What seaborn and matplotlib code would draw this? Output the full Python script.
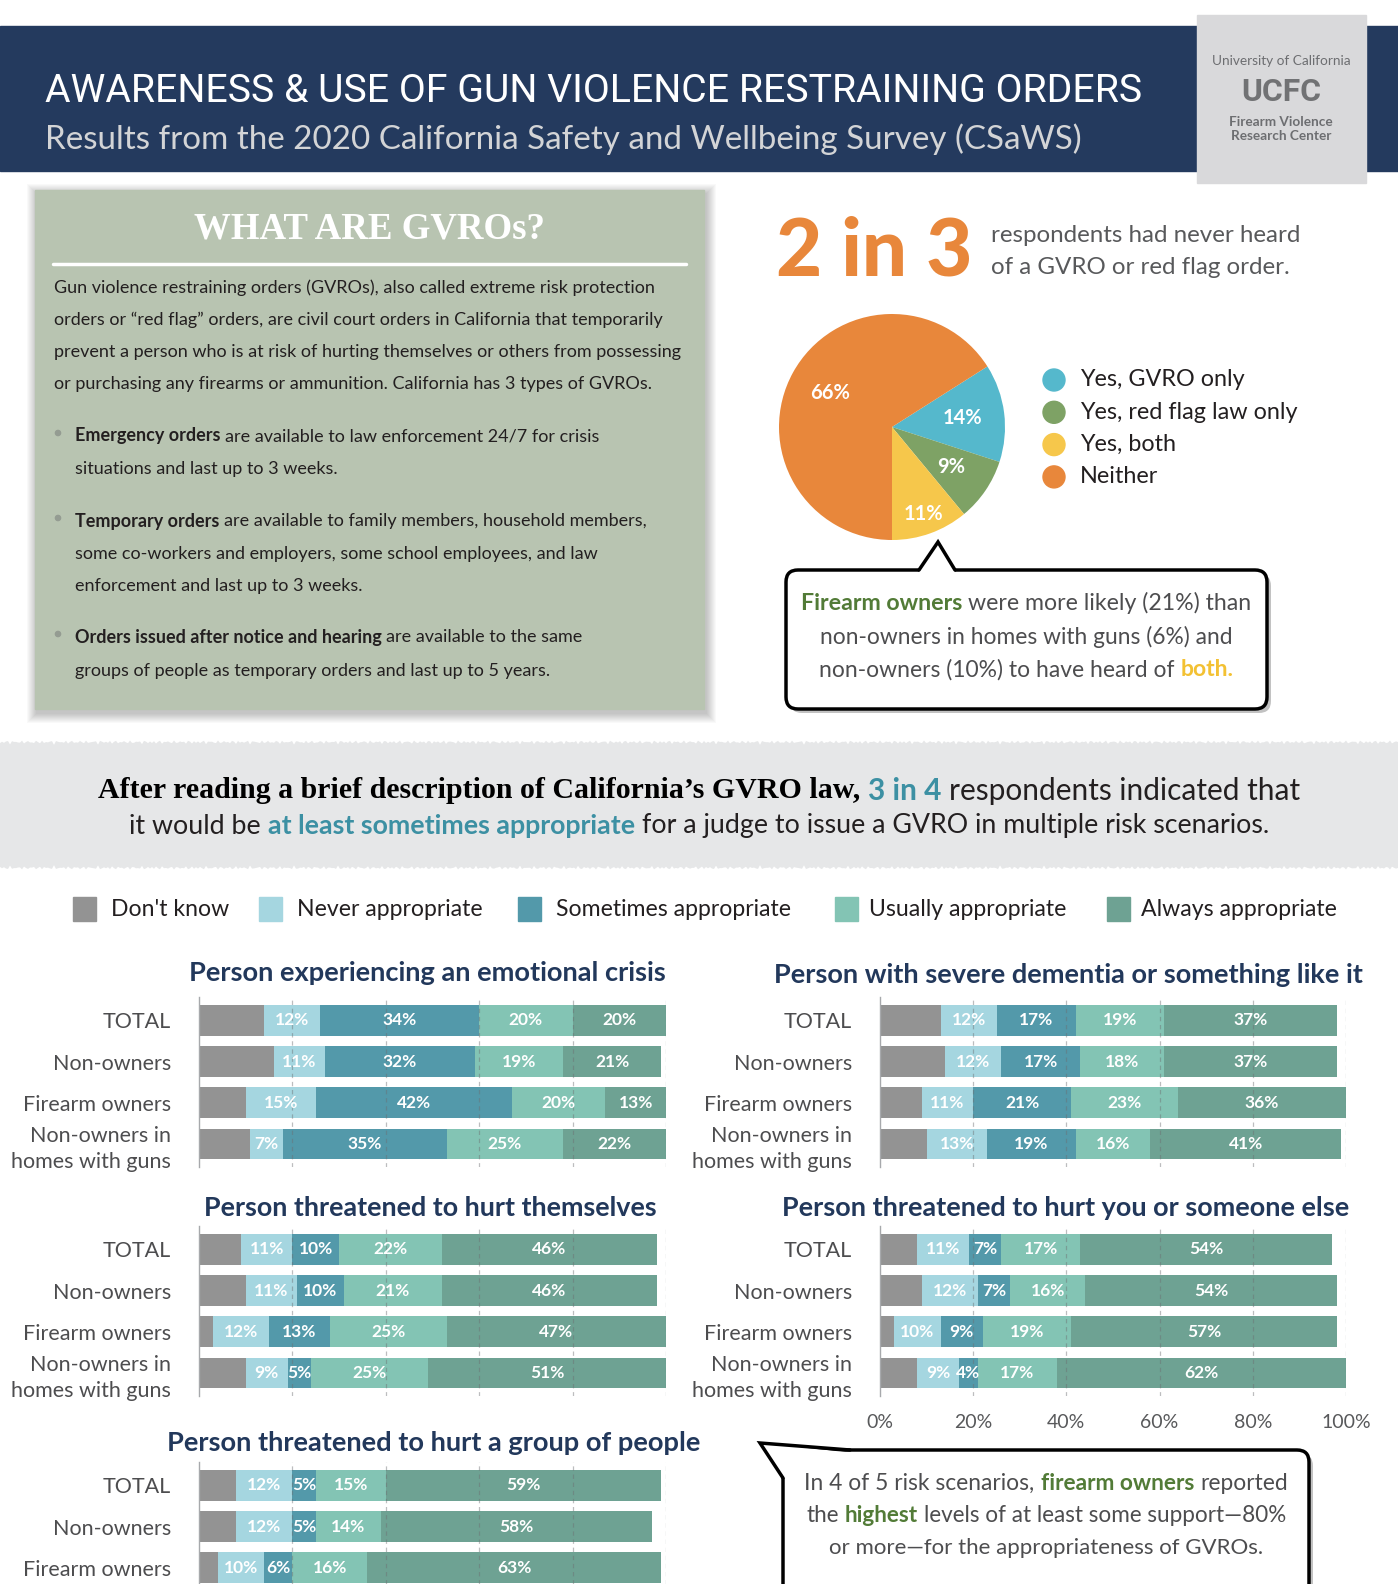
import numpy as np
import pandas as pd
import seaborn as sns
import matplotlib.pyplot as plt
from matplotlib.patches import Rectangle, FancyBboxPatch, Polygon, Circle

# ---------------- data ----------------
pie_labels = ["Yes, GVRO only", "Yes, red flag law only", "Yes, both", "Neither"]
pie_values = [14, 9, 11, 66]

responses = ["Don't know", "Never appropriate", "Sometimes appropriate",
             "Usually appropriate", "Always appropriate"]
groups = ["TOTAL", "Non-owners", "Firearm owners", "Non-owners in\nhomes with guns"]

# columns follow `responses`; "Don't know" is unlabeled in the source
crisis = [[14, 12, 34, 20, 20], [16, 11, 32, 19, 21], [10, 15, 42, 20, 13], [11, 7, 35, 25, 22]]
dementia = [[13, 12, 17, 19, 37], [14, 12, 17, 18, 37], [9, 11, 21, 23, 36], [10, 13, 19, 16, 41]]
self_harm = [[9, 11, 10, 22, 46], [10, 11, 10, 21, 46], [3, 12, 13, 25, 47], [10, 9, 5, 25, 51]]
harm_others = [[8, 11, 7, 17, 54], [9, 12, 7, 16, 54], [3, 10, 9, 19, 57], [8, 9, 4, 17, 62]]
harm_group = [[8, 12, 5, 15, 59], [8, 12, 5, 14, 58], [4, 10, 6, 16, 63]]

xticks = [0, 20, 40, 60, 80, 100]

# ---------------- style ----------------
NAVY = "#243A5E"
ORANGE = "#E8873B"
TEAL = "#3C90A3"
GREEN_TXT = "#527B37"
YELLOW_TXT = "#F3C133"
DARK = "#231F20"
GREYTXT = "#4D4D4F"
bar_colors = ["#939393", "#A5D6E0", "#5399AA", "#83C4B4", "#6EA293"]
pie_colors = ["#55B8CC", "#7EA265", "#F6C74B", "#E8873B"]

sns.set_theme(style="white")
SANS = ["Lato", "DejaVu Sans"]
SERIF = ["Liberation Serif", "DejaVu Serif"]
plt.rcParams["font.family"] = SANS

W, H = 1398, 1584
fig = plt.figure(figsize=(W / 100, H / 100), dpi=100)
bg = fig.add_axes([0, 0, 1, 1])
bg.set_xlim(0, W)
bg.set_ylim(H, 0)
bg.axis("off")
bg.set_zorder(0)
R = fig.canvas.get_renderer()


def px_axes(x0, y0, x1, y1):
    ax = fig.add_axes([x0 / W, 1 - y1 / H, (x1 - x0) / W, (y1 - y0) / H])
    ax.set_facecolor("none")
    return ax


def wid(t):
    return t.get_window_extent(R).width


def fit(t, w):
    t.set_fontsize(t.get_fontsize() * w / wid(t))
    return t


def rich(x, y, parts, size, ha="center", width=None, **kw):
    texts = []
    for s, st in parts:
        p = dict(kw)
        p.update(st)
        texts.append(bg.text(0, y, s, fontsize=size, va="center", ha="left", **p))

    def measure():
        return [wid(t) for t in texts], 0.26 * texts[-1].get_fontsize() * 100 / 72

    ws, sp = measure()
    if width:
        k = width / (sum(ws) + sp * (len(ws) - 1))
        for t in texts:
            t.set_fontsize(t.get_fontsize() * k)
        ws, sp = measure()
    total = sum(ws) + sp * (len(ws) - 1)
    x0 = x - total / 2 if ha == "center" else x
    for t, w in zip(texts, ws):
        t.set_x(x0)
        x0 += w + sp
    return texts


BOLD = dict(fontweight="bold")

# ---------------- header ----------------
bg.add_patch(Rectangle((0, 26), W, 145, color=NAVY, zorder=1))
bg.add_patch(Rectangle((1197, 15), 169, 168, color="#D9D9DB", zorder=2))
fit(bg.text(45, 91, "AWARENESS & USE OF GUN VIOLENCE RESTRAINING ORDERS", color="white",
            fontsize=30, family=["Roboto", "Lato"], va="center", zorder=3), 1094)
fit(bg.text(45, 139, "Results from the 2020 California Safety and Wellbeing Survey (CSaWS)",
            color="#D3D4D6", fontsize=24, va="center", zorder=3), 1036)
bg.text(1281, 61, "University of California", color="#6D6E71", fontsize=9.8,
        ha="center", va="center", zorder=3)
fit(bg.text(1281, 92, "UCFC", color="#717274", fontsize=30, family=["Roboto", "Lato"],
            fontweight="bold", ha="center", va="center", zorder=3), 80)
bg.text(1281, 122, "Firearm Violence", color="#6D6E71", fontsize=9.8, fontweight="bold",
        ha="center", va="center", zorder=3)
bg.text(1281, 136, "Research Center", color="#6D6E71", fontsize=9.8, fontweight="bold",
        ha="center", va="center", zorder=3)

# ---------------- GVRO box ----------------
for k in range(1, 11):
    bg.add_patch(Rectangle((35 - k + 2, 190 - k + 4), 669 + 2 * k, 519 + 2 * k,
                           color="black", alpha=0.022, lw=0, zorder=1))
bg.add_patch(Rectangle((35, 190), 669, 519, color="#B8C4B1", zorder=2))
fit(bg.text(369, 229, "WHAT ARE GVROs?", color="white", fontsize=26, family=SERIF,
            fontweight="bold", ha="center", va="center", zorder=3), 352)
bg.plot([53, 686], [264, 264], color="white", lw=2.5, zorder=3)

probe = bg.text(0, 0, "prevent a person who is at risk of hurting themselves or others from possessing",
                fontsize=20)
body_fs = 20 * 628 / wid(probe)
probe.remove()

para = ["Gun violence restraining orders (GVROs), also called extreme risk protection",
        "orders or \u201cred flag\u201d orders, are civil court orders in California that temporarily",
        "prevent a person who is at risk of hurting themselves or others from possessing",
        "or purchasing any firearms or ammunition. California has 3 types of GVROs."]
for i, line in enumerate(para):
    bg.text(54, [288, 320, 352, 384][i], line, fontsize=body_fs, color=DARK,
            va="center", zorder=3)

bullets = [
    (436, [("Emergency orders", BOLD), ("are available to law enforcement 24/7 for crisis", {})]),
    (469, [("situations and last up to 3 weeks.", {})]),
    (521, [("Temporary orders", BOLD), ("are available to family members, household members,", {})]),
    (554, [("some co-workers and employers, some school employees, and law", {})]),
    (586, [("enforcement and last up to 3 weeks.", {})]),
    (637, [("Orders issued after notice and hearing", BOLD), ("are available to the same", {})]),
    (671, [("groups of people as temporary orders and last up to 5 years.", {})]),
]
for y, parts in bullets:
    rich(75, y, parts, body_fs, ha="left", color=DARK, zorder=3)
for y in [433, 518, 634]:
    bg.add_patch(Circle((58, y), 2.6, color="#949C92", zorder=3))

# ---------------- 2 in 3 + pie ----------------
fit(bg.text(776, 252, "2 in 3", color=ORANGE, fontsize=50, fontweight="black",
            va="center", zorder=3), 197)
t1 = fit(bg.text(991, 235, "respondents had never heard", color="#58595B", fontsize=17,
                 va="center", zorder=3), 309)
bg.text(991, 267, "of a GVRO or red flag order.", color="#58595B", fontsize=t1.get_fontsize(),
        va="center", zorder=3)

cx, cy, r = 892, 427, 113
pax = px_axes(cx - r, cy - r, cx + r, cy + r)
start = -90 + 3.6 * sum(pie_values[:3])
wedges, _, autotexts = pax.pie(pie_values, colors=pie_colors, startangle=start, counterclock=False,
                               autopct="%.0f%%", pctdistance=0.63,
                               wedgeprops=dict(linewidth=0),
                               textprops=dict(color="white", fontweight="bold", fontsize=14.5))
px_, py_ = autotexts[2].get_position()
autotexts[2].set_position((px_ * 1.3, py_ * 1.3))
pax.set_xlim(-1, 1)
pax.set_ylim(-1, 1)

for i, lab in enumerate(pie_labels):
    yy = 380 + 32.3 * i
    bg.add_patch(Circle((1054, yy), 11, color=pie_colors[i], zorder=3))
    bg.text(1080, yy, lab, fontsize=16.8, color=DARK, va="center", zorder=3)

# callout 1
bg.add_patch(FancyBboxPatch((790, 574), 481, 139, boxstyle="round,pad=0,rounding_size=12",
                            fc="#9A9A9A", ec="none", alpha=0.6, zorder=2))
bg.add_patch(FancyBboxPatch((786, 570), 481, 139, boxstyle="round,pad=0,rounding_size=12",
                            fc="white", ec="black", lw=2.5, zorder=3))
bg.add_patch(Polygon([(919, 572), (938, 542), (955, 572)], closed=True, fc="white", ec="none", zorder=4))
bg.plot([919, 938, 955], [570, 542, 570], color="black", lw=2.5, zorder=5, solid_joinstyle="miter")
cfs = 15.5
rich(1026, 603, [("Firearm owners", dict(color=GREEN_TXT, fontweight="bold")),
                 ("were more likely (21%) than", {})], cfs, width=451, color=GREYTXT, zorder=6)
rich(1026, 637, [("non-owners in homes with guns (6%) and", {})], cfs, width=411, color=GREYTXT, zorder=6)
rich(1026, 670, [("non-owners (10%) to have heard of", {}),
                 ("both.", dict(color=YELLOW_TXT, fontweight="bold"))], cfs, width=414,
     color=GREYTXT, zorder=6)

# ---------------- grey band ----------------
xs = np.linspace(0, W, 700)
jag = 2.5 * np.abs(np.sin(xs * 0.93)) + 2.0 * np.abs(np.sin(xs * 2.71 + 1.3))
top = 745 - jag
bot = 865 + jag[::-1]
band = np.vstack([np.column_stack([xs, top]), np.column_stack([xs[::-1], bot])])
bg.add_patch(Polygon(band, closed=True, color="#E6E7E8", lw=0, zorder=1))
rich(699, 791, [("After reading a brief description of California\u2019s GVRO law,",
                 dict(family=SERIF, fontweight="bold", color="black")),
                ("3 in 4", dict(color=TEAL, fontweight="bold")),
                ("respondents indicated that", {})], 20, width=1205, color=DARK, zorder=3)
rich(699, 826, [("it would be", {}),
                ("at least sometimes appropriate", dict(color=TEAL, fontweight="bold")),
                ("for a judge to issue a GVRO in multiple risk scenarios.", {})], 18,
     width=1137, color=DARK, zorder=3)

# ---------------- bar legend ----------------
for sx, tx, lab, col in zip([73, 259, 518, 835, 1107], [111, 297, 556, 869, 1141], responses, bar_colors):
    bg.add_patch(Rectangle((sx, 897), 23, 24, color=col, zorder=3))
    bg.text(tx, 910, lab, fontsize=16.6, color=DARK, va="center", zorder=3)


# ---------------- stacked bar panels ----------------
def stacked(ax, rows, ybottom, show_ticks=False):
    labels = groups[:len(rows)]
    df = pd.DataFrame(rows, columns=responses)
    cum = df.cumsum(axis=1)
    cum["group"] = labels
    for resp, col in reversed(list(zip(responses, bar_colors))):
        sns.barplot(data=cum, x=resp, y="group", color=col, orient="h", width=0.75,
                    saturation=1, errorbar=None, linewidth=0, ax=ax, zorder=2)
    for i, row in enumerate(rows):
        left = 0
        for j, v in enumerate(row):
            if j > 0:
                ax.text(left + v / 2, i, f"{v}%", color="white", fontweight="bold",
                        fontsize=12.5, ha="center", va="center", zorder=4)
            left += v
    for v in xticks[1:]:
        ax.axvline(v, color="#6D6E71", lw=0.9, ls=(0, (3.5, 3)), alpha=0.45, zorder=3)
    ax.set_xlim(0, 100)
    ax.set_ylim(ybottom, -0.57)
    ax.set_xlabel("")
    ax.set_ylabel("")
    for s in ["top", "right", "bottom"]:
        ax.spines[s].set_visible(False)
    ax.spines["left"].set_color("#A7A9AC")
    ax.spines["left"].set_linewidth(1)
    ax.set_yticks(range(len(labels)))
    ax.set_yticklabels(labels, fontsize=15.5, color=GREYTXT, linespacing=1.4)
    ax.tick_params(axis="y", length=0, pad=20)
    if show_ticks:
        ax.set_xticks(xticks)
        ax.set_xticklabels([f"{v}%" for v in xticks], fontsize=14, color="#58595B")
        ax.tick_params(axis="x", length=0, pad=13)
    else:
        ax.set_xticks([])


panels = [
    ("Person experiencing an emotional crisis", crisis, (199, 997, 666, 1167), 3.56, 427, 973, 480, False),
    ("Person with severe dementia or something like it", dementia, (880, 997, 1346, 1167), 3.56, 1068, 975, 591, False),
    ("Person threatened to hurt themselves", self_harm, (199, 1226, 666, 1396), 3.56, 430, 1208, 453, False),
    ("Person threatened to hurt you or someone else", harm_others, (880, 1226, 1346, 1396), 3.56, 1066, 1208, 567, True),
    ("Person threatened to hurt a group of people", harm_group, (199, 1462, 666, 1584), 2.39, 434, 1443, 535, False),
]
for title, rows, rect, yb, tx, ty, tw, ticks in panels:
    ax = px_axes(*rect)
    stacked(ax, rows, yb, ticks)
    fit(bg.text(tx, ty, title, color="#22385B", fontsize=18, fontweight="bold",
                ha="center", va="center", zorder=3), tw)

# ---------------- bottom callout ----------------
bg.add_patch(FancyBboxPatch((787, 1454), 526, 160, boxstyle="round,pad=0,rounding_size=12",
                            fc="#9A9A9A", ec="none", alpha=0.6, zorder=2))
bg.add_patch(FancyBboxPatch((783, 1450), 526, 160, boxstyle="round,pad=0,rounding_size=12",
                            fc="white", ec="black", lw=2.5, zorder=3))
bg.add_patch(Polygon([(760, 1443), (850, 1452.5), (784.5, 1478)], closed=True,
                     fc="white", ec="none", zorder=4))
bg.plot([850, 760, 783], [1450, 1443, 1478], color="black", lw=2.5, zorder=5,
        solid_joinstyle="miter")
rich(1046, 1483, [("In 4 of 5 risk scenarios,", {}),
                  ("firearm owners", dict(color=GREEN_TXT, fontweight="bold")),
                  ("reported", {})], 15.5, width=482, color=GREYTXT, zorder=6)
rich(1046, 1516, [("the", {}), ("highest", dict(color=GREEN_TXT, fontweight="bold")),
                  ("levels of at least some support\u201480%", {})], 15.5, width=480,
     color=GREYTXT, zorder=6)
rich(1046, 1548, [("or more\u2014for the appropriateness of GVROs.", {})], 15.5, width=433,
     color=GREYTXT, zorder=6)

plt.savefig("out.png", dpi=100)
